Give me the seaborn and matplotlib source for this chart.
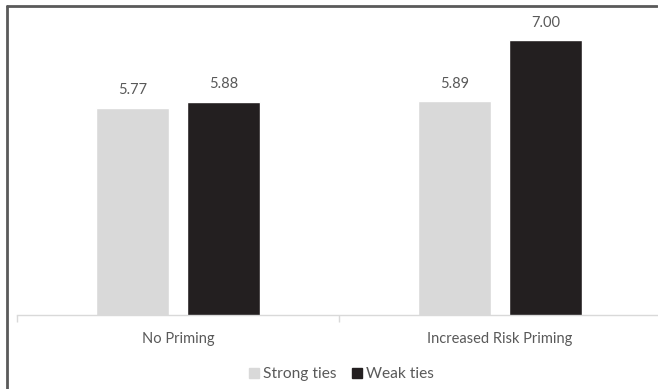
import matplotlib
matplotlib.use("Agg")
import matplotlib.pyplot as plt
from matplotlib.lines import Line2D
from matplotlib.ticker import FixedLocator
import seaborn as sns
import pandas as pd

# Chart data
conditions = ["No Priming", "Increased Risk Priming"]
tie_types = ["Strong ties", "Weak ties"]
strong_ties = [5.77, 5.89]
weak_ties = [5.88, 7.00]

df = pd.DataFrame({
    "condition": conditions * 2,
    "ties": [tie_types[0]] * 2 + [tie_types[1]] * 2,
    "value": strong_ties + weak_ties,
})

sns.set_theme(style="white")
plt.rcParams["font.family"] = ["Lato", "DejaVu Sans"]
text_color = "#595959"
palette = {"Strong ties": "#d9d9d9", "Weak ties": "#231f20"}
fs = 10.5

W, H = 658, 389
fig = plt.figure(figsize=(W / 100, H / 100), dpi=100)
ax = fig.add_axes([17 / W, 74 / H, 644 / W, 275 / H])

sns.barplot(data=df, x="condition", y="value", hue="ties", order=conditions,
            hue_order=tie_types, palette=palette, width=0.565, gap=0.207,
            saturation=1, legend=False, ax=ax)

ax.set_ylim(2, 7)
ax.set_xlim(-0.5, 1.5)

# Value labels above each bar
for container in ax.containers:
    for bar in container:
        h = bar.get_height()
        ax.annotate(f"{h:.2f}", (bar.get_x() + bar.get_width() / 2, h),
                    xytext=(0, 12.5), textcoords="offset points",
                    ha="center", va="center", fontsize=fs, color=text_color,
                    annotation_clip=False)

for s in ["left", "right", "top"]:
    ax.spines[s].set_visible(False)
ax.spines["bottom"].set_color("#d9d9d9")
ax.spines["bottom"].set_linewidth(1)
ax.set_yticks([])
ax.set_xlabel("")
ax.set_ylabel("")
ax.xaxis.set_minor_locator(FixedLocator([-0.5, 0.5, 1.5]))
ax.tick_params(axis="x", which="major", length=0, pad=12, labelsize=fs,
               labelcolor=text_color)
ax.tick_params(axis="x", which="minor", length=5, width=1, color="#d9d9d9",
               bottom=True)

# Legend with square markers
handles = [Line2D([], [], marker="s", linestyle="", markersize=6.8,
                  markerfacecolor=palette[t], markeredgecolor=palette[t],
                  label=t) for t in tie_types]
fig.legend(handles=handles, loc="center", bbox_to_anchor=(341 / W, 1 - 374 / H),
           ncol=2, frameon=False, fontsize=11.2, labelcolor=text_color,
           handletextpad=0.2, columnspacing=1.0, handlelength=0.7)

# Outer frame (left and top edges)
frame_kw = dict(color="#5a5a5a", linewidth=2, transform=fig.transFigure)
fig.lines.append(Line2D([6.5 / W, 6.5 / W], [0, 1 - 5.5 / H], **frame_kw))
fig.lines.append(Line2D([6.5 / W, 657 / W], [1 - 5.5 / H, 1 - 5.5 / H], **frame_kw))

fig.savefig("out.png", dpi=100)
